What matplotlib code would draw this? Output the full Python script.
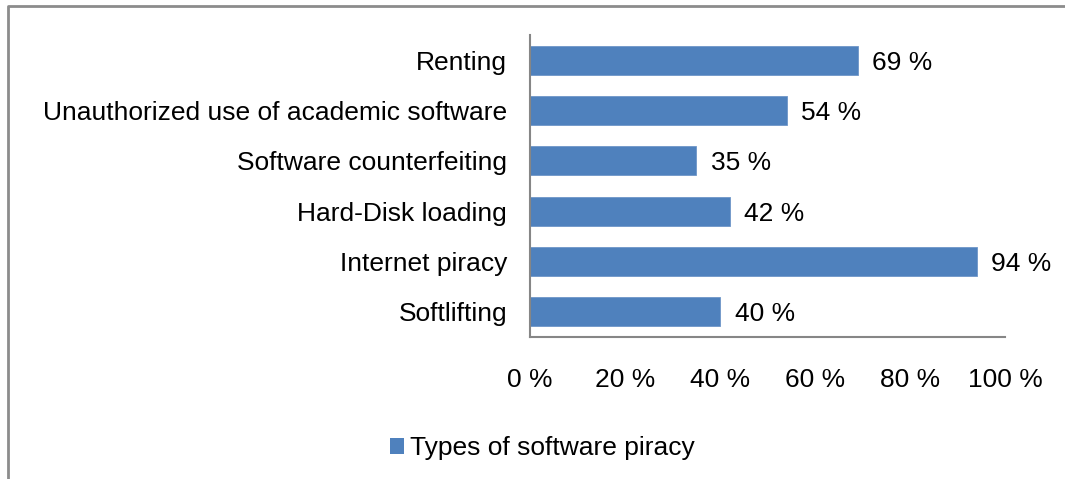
import matplotlib.pyplot as plt
from matplotlib.lines import Line2D
from matplotlib.patches import Patch

categories = ['Renting', 'Unauthorized use of academic software',
              'Software counterfeiting', 'Hard-Disk loading',
              'Internet piracy', 'Softlifting']
values = [69, 54, 35, 42, 94, 40]
xticks = [0, 20, 40, 60, 80, 100]
series_name = 'Types of software piracy'

bar_color = '#4F81BD'
axis_color = '#868686'
fs = 19

plt.rcParams['font.family'] = ['Liberation Sans', 'DejaVu Sans']
plt.rcParams['font.size'] = fs

fig = plt.figure(figsize=(10.65, 4.79), dpi=100)
ax = fig.add_axes([530 / 1065, 1 - 337 / 479, 475 / 1065, 302 / 479])

pos = list(range(len(categories)))
ax.barh(pos, values, height=0.58, color=bar_color, edgecolor='#6E96C8', linewidth=0.6)
for p, v in zip(pos, values):
    ax.annotate(f'{v} %', (v, p), xytext=(10.5, 0), textcoords='offset points',
                ha='left', va='center_baseline', fontsize=fs)

ax.set_ylim(len(categories) - 0.5, -0.5)
ax.set_yticks(pos)
ax.set_yticklabels(categories)
ax.set_xlim(0, 100)
ax.set_xticks(xticks)
ax.set_xticklabels([f'{t} %' for t in xticks])
ax.tick_params(axis='y', length=0, pad=16.5)
ax.tick_params(axis='x', length=0, pad=22)

for side in ['top', 'right']:
    ax.spines[side].set_visible(False)
for side in ['left', 'bottom']:
    ax.spines[side].set_color(axis_color)
    ax.spines[side].set_linewidth(1.5)

# outer chart frame (only left and top edges visible in the crop)
fig.add_artist(Line2D([8 / 1065, 8 / 1065, 1], [0, 1 - 6 / 479, 1 - 6 / 479],
                      transform=fig.transFigure, color='#8C8C8C', linewidth=2))

handle = Patch(facecolor=bar_color, edgecolor='none')
fig.legend([handle], [series_name], loc='center', bbox_to_anchor=(542 / 1065, 1 - 448 / 479),
           frameon=False, handlelength=0.55, handleheight=0.55, handletextpad=0.2,
           fontsize=fs)

fig.savefig('out.png', dpi=100)
